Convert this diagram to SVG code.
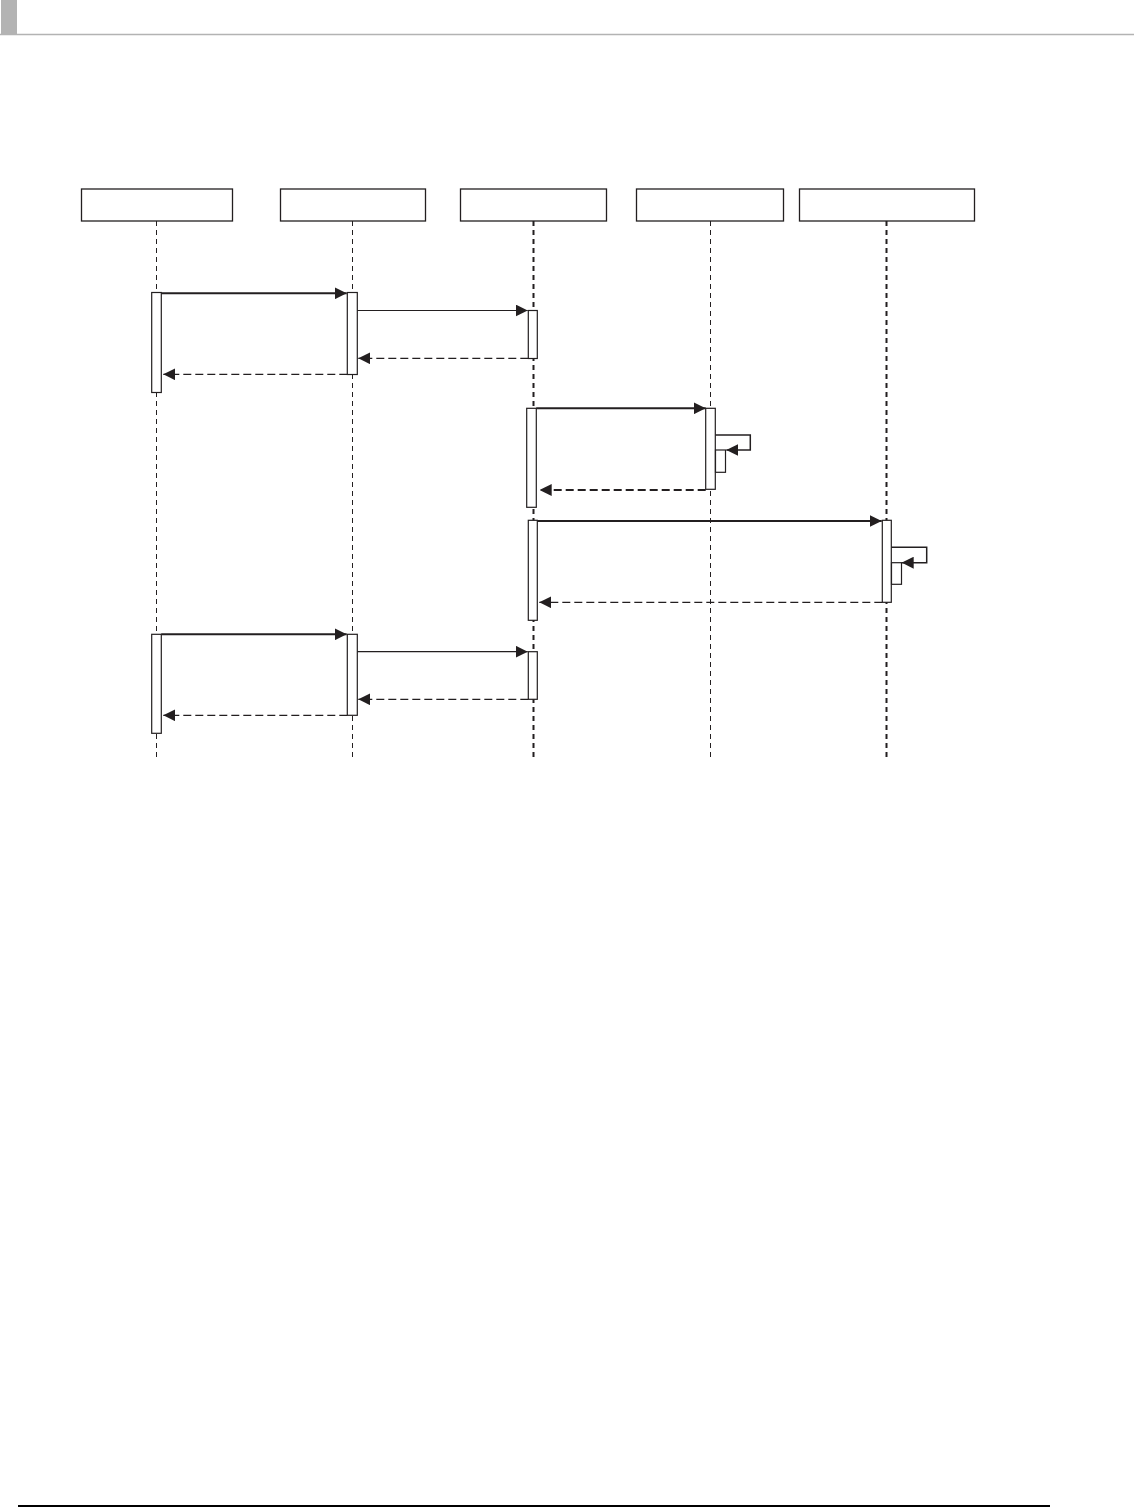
<svg xmlns="http://www.w3.org/2000/svg" width="1134" height="1508" viewBox="0 0 1134 1508">
<style>
.hdr{fill:#fff;stroke:#231f20;stroke-width:1.3}
.life{stroke:#231f20;stroke-width:1;stroke-dasharray:5 4;fill:none}
.life.bold{stroke-width:2}
.act{fill:#fff;stroke:#231f20;stroke-width:1.2}
.call{stroke:#231f20;stroke-width:2;fill:none;marker-end:url(#ah)}
.call.thin{stroke-width:1.2}
.ret{stroke:#231f20;stroke-width:1.2;stroke-dasharray:8 4;fill:none;marker-end:url(#ah)}
.ret.bold{stroke-width:2}
.self{stroke:#231f20;stroke-width:1.5;fill:none;marker-end:url(#ah)}
</style>
<defs>
<marker id="ah" markerUnits="userSpaceOnUse" markerWidth="12" markerHeight="12" viewBox="0 0 12 12" refX="12" refY="6" orient="auto">
<path d="M0,0 L12,6 L0,12 z" fill="#231f20"/>
</marker>
</defs>
<rect width="1134" height="1508" fill="#fff"/>
<g id="page-header">
<rect x="1" y="0" width="16" height="34" fill="#b3b3b3"/>
<line x1="0" y1="34.5" x2="1134" y2="34.5" stroke="#b3b3b3" stroke-width="1.3"/>
</g>
<g id="page-footer">
<line x1="18" y1="1506" x2="1050" y2="1506" stroke="#000" stroke-width="2"/>
</g>
<g id="node1">
<rect class="hdr" x="81.5" y="189" width="151" height="32"/>
<line class="life" x1="156.5" y1="221" x2="156.5" y2="761"/>
</g>
<g id="node2">
<rect class="hdr" x="280.5" y="189" width="145" height="32"/>
<line class="life" x1="352.5" y1="221" x2="352.5" y2="761"/>
</g>
<g id="node3">
<rect class="hdr" x="460.5" y="189" width="146" height="32"/>
<line class="life bold" x1="533.5" y1="221" x2="533.5" y2="761"/>
</g>
<g id="node4">
<rect class="hdr" x="636.5" y="189" width="147" height="32"/>
<line class="life" x1="710.5" y1="221" x2="710.5" y2="761"/>
</g>
<g id="node5">
<rect class="hdr" x="799.5" y="189" width="175" height="32"/>
<line class="life bold" x1="886.5" y1="221" x2="886.5" y2="761"/>
</g>
<g id="activations">
<rect class="act" x="151.7" y="292.5" width="9.6" height="100"/>
<rect class="act" x="347.3" y="292.5" width="10" height="82"/>
<rect class="act" x="528.3" y="310.5" width="9" height="48"/>
<rect class="act" x="526.7" y="408.3" width="9.6" height="99"/>
<rect class="act" x="705.7" y="408.3" width="9.6" height="81"/>
<rect class="act" x="715.5" y="450" width="10" height="22.3"/>
<rect class="act" x="528.3" y="520.3" width="9" height="100"/>
<rect class="act" x="882.3" y="520.3" width="9" height="82"/>
<rect class="act" x="891.5" y="562.7" width="10" height="21.6"/>
<rect class="act" x="151.7" y="634.3" width="9.6" height="99"/>
<rect class="act" x="347.3" y="634.3" width="10" height="81"/>
<rect class="act" x="528.3" y="651.7" width="9" height="47.6"/>
</g>
<g id="connectors">
<path class="call" d="M161.3,293.3 H346.7"/>
<path class="call thin" d="M357.3,310.5 H527.7"/>
<path class="ret" d="M528.3,358.3 H358.3"/>
<path class="ret" d="M347.3,374.3 H163.3"/>
<path class="call" d="M536.3,408.3 H705.7"/>
<path class="self" d="M715.3,435 H750.3 V450 H726.3"/>
<path class="ret bold" d="M705.7,490 H539.7"/>
<path class="call" d="M537.3,521 H881.7"/>
<path class="self" d="M891.3,547.3 H926.7 V562.7 H901.7"/>
<path class="ret" d="M882.3,602.3 H539.3"/>
<path class="call" d="M161.3,634.3 H346.7"/>
<path class="call thin" d="M357.3,651.7 H527.7"/>
<path class="ret" d="M528.3,699.3 H358.3"/>
<path class="ret" d="M347.3,715.3 H163.3"/>
</g>
</svg>
